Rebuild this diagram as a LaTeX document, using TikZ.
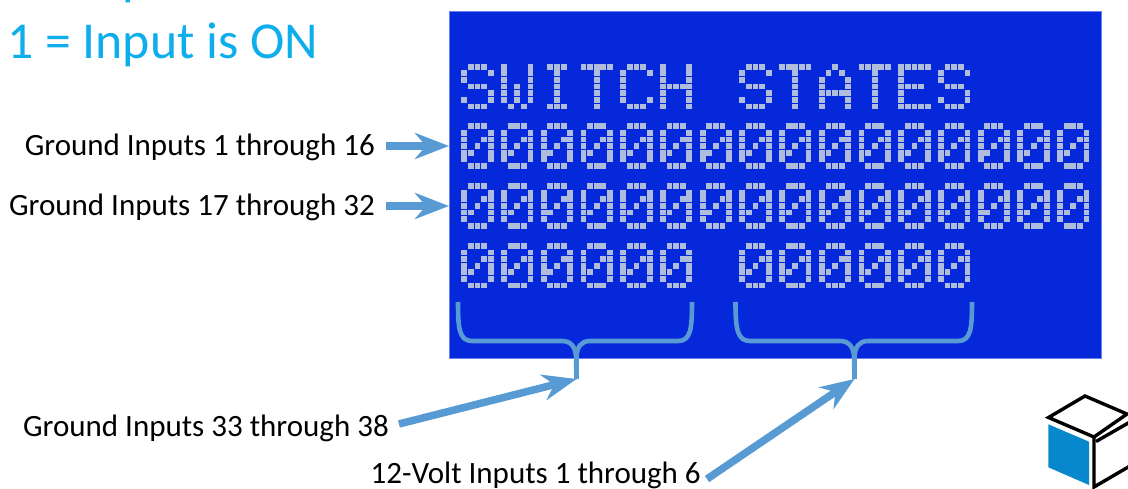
\documentclass[tikz,border=0pt]{standalone}
\usepackage{fontspec}
\setmainfont{Carlito}
\usetikzlibrary{arrows.meta}
\definecolor{lcdblue}{RGB}{4,40,218}
\definecolor{lcddot}{RGB}{176,188,220}
\definecolor{headcyan}{RGB}{14,174,236}
\definecolor{callout}{RGB}{88,155,212}
\definecolor{logoblue}{RGB}{8,136,204}
\tikzset{
  heading/.style={text=headcyan,font=\fontsize{51.8}{54}\selectfont,anchor=base west,inner sep=0pt},
  label/.style={text=black,font=\fontsize{31}{33}\selectfont,anchor=east,inner sep=0pt},
  panel/.style={fill=lcdblue,draw=lcdblue!60!white,line width=0.8pt,minimum width=652pt,minimum height=347pt,inner sep=0pt,anchor=north west},
  callarrow/.style={draw=callout,line width=7.5pt,-{Stealth[length=34pt,width=26pt,inset=11pt]}},
  brace/.style={draw=callout,line width=4.6pt,line join=round},
  logoline/.style={draw=black,line width=3.4pt,line join=miter}
}
% 5x7 dot patterns of the display characters
\expandafter\def\csname lcdgS\endcsname{01110,10001,10000,01110,00001,10001,01110}
\expandafter\def\csname lcdgW\endcsname{10001,10001,10001,10101,10101,10101,01010}
\expandafter\def\csname lcdgI\endcsname{01110,00100,00100,00100,00100,00100,01110}
\expandafter\def\csname lcdgT\endcsname{11111,00100,00100,00100,00100,00100,00100}
\expandafter\def\csname lcdgC\endcsname{01110,10001,10000,10000,10000,10001,01110}
\expandafter\def\csname lcdgH\endcsname{10001,10001,10001,11111,10001,10001,10001}
\expandafter\def\csname lcdgA\endcsname{00100,01010,10001,10001,11111,10001,10001}
\expandafter\def\csname lcdgE\endcsname{11111,10000,10000,11110,10000,10000,11111}
\expandafter\def\csname lcdg0\endcsname{01110,10001,10011,10101,11001,10001,01110}
\expandafter\def\csname lcdg-\endcsname{00000,00000,00000,00000,00000,00000,00000}
\def\lcddot#1#2#3{\ifnum#1=1 \fill[lcddot] ({464.3+6.62*(\cx*6+#2)-2.9},{\cy+6.62*\ry-2.9}) rectangle +(5.8,5.8);\fi}
\def\lcdbits#1#2#3#4#5\relax{\lcddot{#1}{0}{}\lcddot{#2}{1}{}\lcddot{#3}{2}{}\lcddot{#4}{3}{}\lcddot{#5}{4}{}}
\newcommand{\lcdline}[2]{% y of the first dot row, characters
  \def\cy{#1}%
  \foreach \ch [count=\cx from 0] in {#2}{%
    \edef\glyph{\csname lcdg\ch\endcsname}%
    \foreach \bits [count=\ry from 0] in \glyph {\expandafter\lcdbits\bits\relax}%
  }}
\begin{document}
\begin{tikzpicture}[x=1pt,y=-1pt]
\clip (0,0) rectangle (1128,489);
\fill[white] (0,0) rectangle (1128,489);

% headings (the upper one runs off the top edge)
\node[heading] (off) at (7,-5) {0 = Input is OFF};
\node[heading] (on) at (7,59) {1 = Input is ON};

% display
\node[panel] (lcd) at (449,11) {};
\lcdline{66.7}{S,W,I,T,C,H,-,S,T,A,T,E,S}
\lcdline{126.3}{0,0,0,0,0,0,0,0,0,0,0,0,0,0,0,0}
\lcdline{186.0}{0,0,0,0,0,0,0,0,0,0,0,0,0,0,0,0}
\lcdline{245.8}{0,0,0,0,0,0,-,0,0,0,0,0,0}

% labels
\node[label] (g1) at (375,147) {Ground Inputs 1 through 16};
\node[label] (g17) at (375,207) {Ground Inputs 17 through 32};
\node[label] (g33) at (389,428) {Ground Inputs 33 through 38};
\node[label] (v12) at (701,475) {12-Volt Inputs 1 through 6};

% arrow targets
\coordinate (t1) at (449,146);
\coordinate (t17) at (449,206);
\coordinate (stemA) at (576.5,379);
\coordinate (stemB) at (854.5,379);

% braces
\draw[brace] (458,302) .. controls (458,328) and (459,341) .. (472,341) -- (562,341)
  .. controls (571,341) and (575.5,347) .. (576,357) -- (stemA);
\draw[brace] (692,302) .. controls (692,328) and (691,341) .. (678,341) -- (590,341)
  .. controls (581,341) and (577,347) .. (576.5,357) -- (stemA);
\draw[brace] (735.5,302) .. controls (735.5,328) and (737,341) .. (750,341) -- (840,341)
  .. controls (849,341) and (853.5,347) .. (854,357) -- (stemB);
\draw[brace] (972,302) .. controls (972,328) and (971,341) .. (958,341) -- (868,341)
  .. controls (859,341) and (855,347) .. (854.5,357) -- (stemB);

% arrows
\draw[callarrow] ([xshift=11pt,yshift=1pt]g1.east) -- (t1);
\draw[callarrow] ([xshift=11pt,yshift=1pt]g17.east) -- (t17);
\draw[callarrow] ([xshift=10pt,yshift=4pt]g33.east) -- (stemA);
\draw[callarrow] ([xshift=6pt,yshift=-4pt]v12.east) -- (stemB);

% logo
\fill[logoblue] (1048.3,424.3) -- (1089,441.7) -- (1089,485) -- (1048.3,467.3) -- cycle;
\draw[logoline] (1085,396) -- (1048.5,417.5) -- (1094,437) -- (1127,414) -- cycle;
\draw[logoline] (1094,437) -- (1094,487) -- (1130,466);
\draw[logoline] (1096,441.5) -- (1130,422);
\end{tikzpicture}
\end{document}
